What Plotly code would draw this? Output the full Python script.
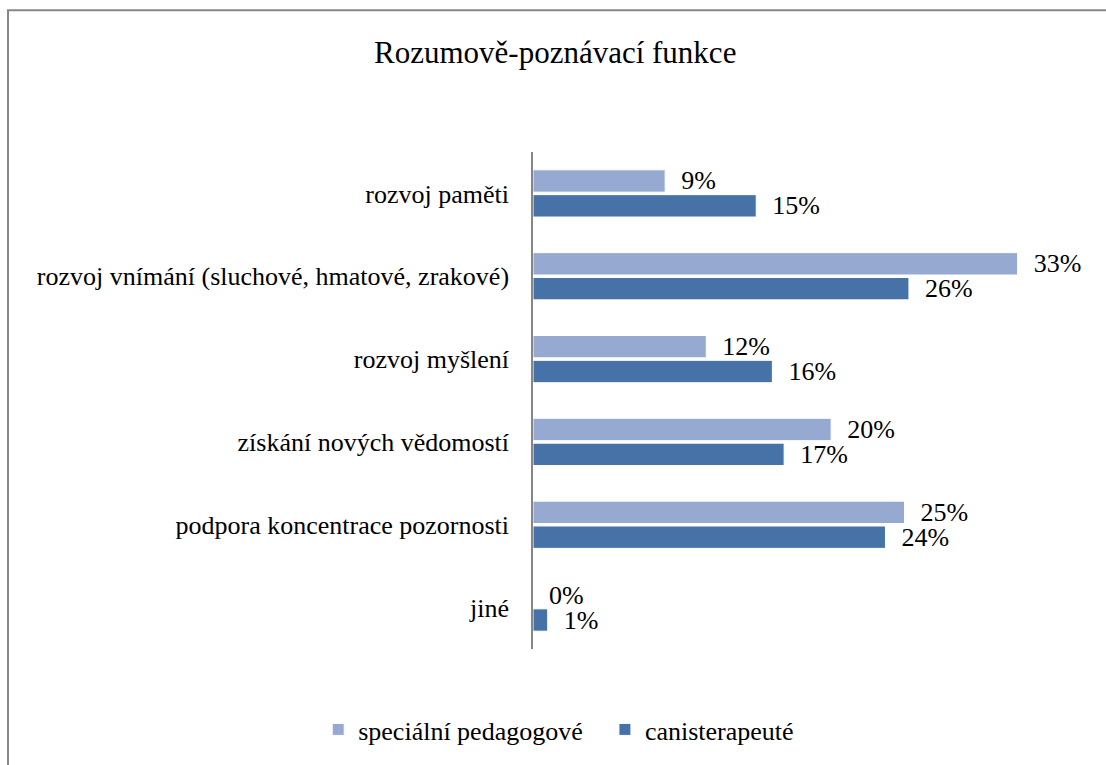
import plotly.graph_objects as go

categories = ["rozvoj paměti", "rozvoj vnímání (sluchové, hmatové, zrakové)", "rozvoj myšlení",
              "získání nových vědomostí", "podpora koncentrace pozornosti", "jiné"]
specialni = [0.09, 0.33, 0.118, 0.203, 0.253, 0.0]
canister = [0.152, 0.256, 0.163, 0.171, 0.24, 0.01]
series_names = ["speciální pedagogové", "canisterapeuté"]

W, H = 1106, 765
L, R, T, B = 533, 58.5, 152, 113
pw = W - L - R
ph = H - T - B
FONT = "Liberation Serif"
FS = 26

fig = go.Figure()
fig.add_trace(go.Bar(y=categories, x=specialni, orientation="h", name=series_names[0],
                     legend="legend",
                     marker=dict(color="#95a9d1", line=dict(color="white", width=1)),
                     texttemplate="\u00a0\u00a0%{x:.0%}", textposition="outside", cliponaxis=False,
                     constraintext="none",
                     textfont=dict(size=FS, color="black", family=FONT)))
fig.add_trace(go.Bar(y=categories, x=canister, orientation="h", name=series_names[1],
                     legend="legend2",
                     marker=dict(color="#4672a8", line=dict(color="white", width=1)),
                     texttemplate="\u00a0\u00a0%{x:.0%}", textposition="outside", cliponaxis=False,
                     constraintext="none",
                     textfont=dict(size=FS, color="black", family=FONT)))

legend_common = dict(orientation="h", yanchor="middle", y=-81 / ph, xanchor="left",
                     font=dict(size=FS, family=FONT, color="black"), itemwidth=30,
                     bgcolor="rgba(0,0,0,0)")

fig.update_layout(
    width=W, height=H, margin=dict(l=L, r=R, t=T, b=B, pad=0),
    paper_bgcolor="white", plot_bgcolor="white",
    font=dict(family=FONT, size=FS, color="black"),
    title=dict(text="Rozumově-poznávací funkce", x=0.502, xanchor="center", y=1 - 52 / H,
               yanchor="middle", font=dict(size=31, family=FONT, color="black")),
    barmode="group", bargap=0.4, bargroupgap=0.1,
    xaxis=dict(range=[0, 0.35], visible=False, showgrid=False, zeroline=False),
    yaxis=dict(autorange="reversed", showline=True, linecolor="#868686", linewidth=1.5,
               ticks="", ticklabelstandoff=17, showgrid=False,
               tickfont=dict(size=FS, family=FONT, color="black")),
    legend=dict(legend_common, x=(318 - L) / pw),
    legend2=dict(legend_common, x=(605 - L) / pw),
    showlegend=True,
    shapes=[dict(type="rect", xref="paper", yref="paper",
                 x0=(7.5 - L) / pw, x1=(1110 - L) / pw, y0=(H - 770 - B) / ph, y1=(H - 9.5 - B) / ph,
                 line=dict(color="#878787", width=2), fillcolor="rgba(0,0,0,0)", layer="below")],
)

fig.write_html("out.html")
